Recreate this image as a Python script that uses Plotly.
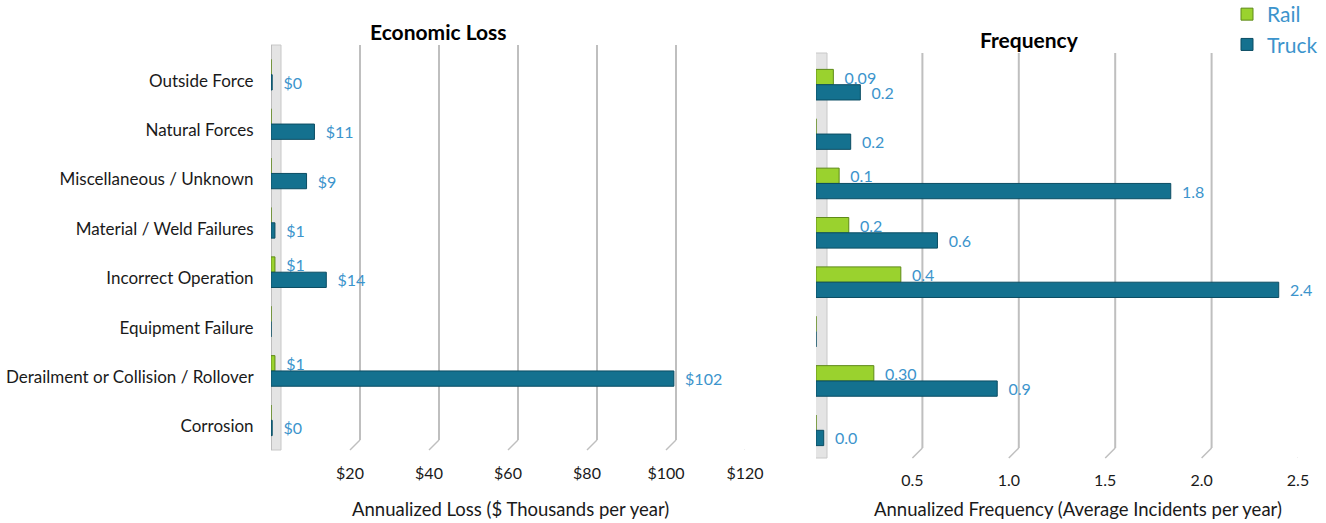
import plotly.graph_objects as go

# ---------------- data ----------------
categories = [
    "Outside Force",
    "Natural Forces",
    "Miscellaneous / Unknown",
    "Material / Weld Failures",
    "Incorrect Operation",
    "Equipment Failure",
    "Derailment or Collision / Rollover",
    "Corrosion",
]
series_names = ["Rail", "Truck"]

loss_rail = [0, 0, 0, 0, 1, 0, 1, 0]
loss_truck = [0.3, 11, 9, 1, 14, 0, 102, 0.3]
loss_rail_text = ["", "", "", "", "$1", "", "$1", ""]
loss_truck_text = ["$0", "$11", "$9", "$1", "$14", "", "$102", "$0"]

freq_rail = [0.09, 0, 0.12, 0.17, 0.44, 0, 0.30, 0]
freq_truck = [0.23, 0.18, 1.84, 0.63, 2.40, 0, 0.94, 0.04]
freq_rail_text = ["0.09", "", "0.1", "0.2", "0.4", "", "0.30", ""]
freq_truck_text = ["0.2", "0.2", "1.8", "0.6", "2.4", "", "0.9", "0.0"]

loss_ticks = [20, 40, 60, 80, 100, 120]
loss_tick_text = ["$20", "$40", "$60", "$80", "$100", "$120"]
freq_ticks = [0.5, 1.0, 1.5, 2.0, 2.5]
freq_tick_text = ["0.5", "1.0", "1.5", "2.0", "2.5"]

# ---------------- styling ----------------
W, H = 1326, 523
FONT = "Lato"
RAIL = "#9AD22E"
RAIL_EDGE = "#5E8A18"
TRUCK = "#14718F"
TRUCK_EDGE = "#0B4D63"
LABEL = "#3C94CC"


def px_x(p):
    return p / W


def px_y(p):
    return 1 - p / H


fig = go.Figure()

panels = [
    dict(xa="x", ya="y", rail=loss_rail, truck=loss_truck,
         rt=loss_rail_text, tt=loss_truck_text, legend=True),
    dict(xa="x2", ya="y2", rail=freq_rail, truck=freq_truck,
         rt=freq_rail_text, tt=freq_truck_text, legend=False),
]

for p in panels:
    fig.add_trace(go.Bar(
        name=series_names[0], y=categories, x=p["rail"], orientation="h",
        xaxis=p["xa"], yaxis=p["ya"],
        marker=dict(color=RAIL, line=dict(color=RAIL_EDGE, width=1)),
        text=p["rt"], texttemplate="\u00a0\u00a0%{text}",
        textposition="outside", cliponaxis=False, constraintext="none",
        textfont=dict(color=LABEL, size=16, family=FONT),
        legendgroup="rail", showlegend=p["legend"],
    ))
    fig.add_trace(go.Bar(
        name=series_names[1], y=categories, x=p["truck"], orientation="h",
        xaxis=p["xa"], yaxis=p["ya"],
        marker=dict(color=TRUCK, line=dict(color=TRUCK_EDGE, width=1)),
        text=p["tt"], texttemplate="\u00a0\u00a0%{text}",
        textposition="outside", cliponaxis=False, constraintext="none",
        textfont=dict(color=LABEL, size=16, family=FONT),
        legendgroup="truck", showlegend=p["legend"],
    ))

# panel geometry (pixels)
L = dict(x0=271, x1=745, y_top=50, y_bot=445, grid_top=45, back_bot=440, front_bot=450,
         wall0=-2, wall1=10)
R = dict(x0=816, x1=1298, y_top=60, y_bot=455, grid_top=53, back_bot=448, front_bot=458,
         wall0=-3, wall1=11)

axis_common = dict(showgrid=False, zeroline=False, showline=False)

fig.update_layout(
    width=W, height=H,
    margin=dict(l=0, r=0, t=0, b=0, autoexpand=False),
    paper_bgcolor="white", plot_bgcolor="rgba(0,0,0,0)",
    barmode="group", bargap=0.38, bargroupgap=0.0,
    font=dict(family=FONT, color="#1a1a1a"),
    xaxis=dict(domain=[px_x(L["x0"]), px_x(L["x1"])], range=[0, 120],
               tickvals=loss_ticks, ticktext=loss_tick_text,
               ticks="outside", ticklen=14, tickcolor="rgba(0,0,0,0)",
               tickfont=dict(size=16, color="#1a1a1a"), anchor="y", automargin=False,
               **axis_common),
    yaxis=dict(domain=[px_y(L["y_bot"]), px_y(L["y_top"])], anchor="x",
               categoryorder="array", categoryarray=categories, autorange="reversed",
               ticks="outside", ticklen=13, tickcolor="rgba(0,0,0,0)", automargin=False,
               ticklabelshift=-6,
               tickfont=dict(size=17, color="#1a1a1a"), **axis_common),
    xaxis2=dict(domain=[px_x(R["x0"]), px_x(R["x1"])], range=[0, 2.5],
                tickvals=freq_ticks, ticktext=freq_tick_text,
                ticks="outside", ticklen=11, tickcolor="rgba(0,0,0,0)", automargin=False,
                tickfont=dict(size=16, color="#1a1a1a"), anchor="y2", **axis_common),
    yaxis2=dict(domain=[px_y(R["y_bot"]), px_y(R["y_top"])], anchor="x2",
                categoryorder="array", categoryarray=categories, autorange="reversed",
                showticklabels=False, automargin=False, **axis_common),
    legend=dict(x=px_x(1227), y=px_y(-6), xanchor="left", yanchor="top",
                font=dict(size=21, color=LABEL, family=FONT),
                itemwidth=30, tracegroupgap=0, bgcolor="rgba(0,0,0,0)"),
)

shapes = []
for geo, xref, ticks in [(L, "x", loss_ticks), (R, "x2", freq_ticks)]:
    # side wall
    shapes.append(dict(type="rect", xref=xref, yref="paper", xsizemode="pixel", xanchor=0,
                       x0=geo["wall0"], x1=geo["wall1"],
                       y0=px_y(geo["front_bot"]), y1=px_y(geo["grid_top"]),
                       fillcolor="#E4E4E4", line=dict(color="#C8C8C8", width=1), layer="below"))
    shapes.append(dict(type="rect", xref=xref, yref="paper", xsizemode="pixel", xanchor=0,
                       x0=geo["wall0"], x1=geo["wall0"] + 3,
                       y0=px_y(geo["front_bot"]), y1=px_y(geo["grid_top"]),
                       fillcolor="#BDBDBD", line=dict(width=0), layer="below"))
    for v in ticks:
        shapes.append(dict(type="line", xref=xref, yref="paper", xsizemode="pixel", xanchor=v,
                           x0=10, x1=10, y0=px_y(geo["back_bot"]), y1=px_y(geo["grid_top"]),
                           line=dict(color="#BFBFBF", width=2), layer="below"))
        shapes.append(dict(type="line", xref=xref, yref="paper", xsizemode="pixel", xanchor=v,
                           x0=10, x1=0, y0=px_y(geo["back_bot"]), y1=px_y(geo["front_bot"]),
                           line=dict(color="#BFBFBF", width=1.5), layer="below"))
fig.update_layout(shapes=shapes)

ann_common = dict(xref="paper", yref="paper", showarrow=False,
                  xanchor="center", yanchor="middle")
annotations = [
    dict(text="<b>Economic Loss</b>", x=px_x(438), y=px_y(31),
         font=dict(size=21, color="#000000", family=FONT), **ann_common),
    dict(text="<b>Frequency</b>", x=px_x(1029), y=px_y(39),
         font=dict(size=21, color="#000000", family=FONT), **ann_common),
    dict(text="Annualized Loss ($ Thousands per year)", x=px_x(510), y=px_y(509),
         font=dict(size=18.5, color="#1a1a1a", family=FONT), **ann_common),
    dict(text="Annualized Frequency (Average Incidents per year)", x=px_x(1078), y=px_y(509),
         font=dict(size=18.5, color="#1a1a1a", family=FONT), **ann_common),
]
fig.update_layout(annotations=annotations)

fig.write_html("out.html", config={"displayModeBar": False},
               post_script="document.body.style.margin='0';")
